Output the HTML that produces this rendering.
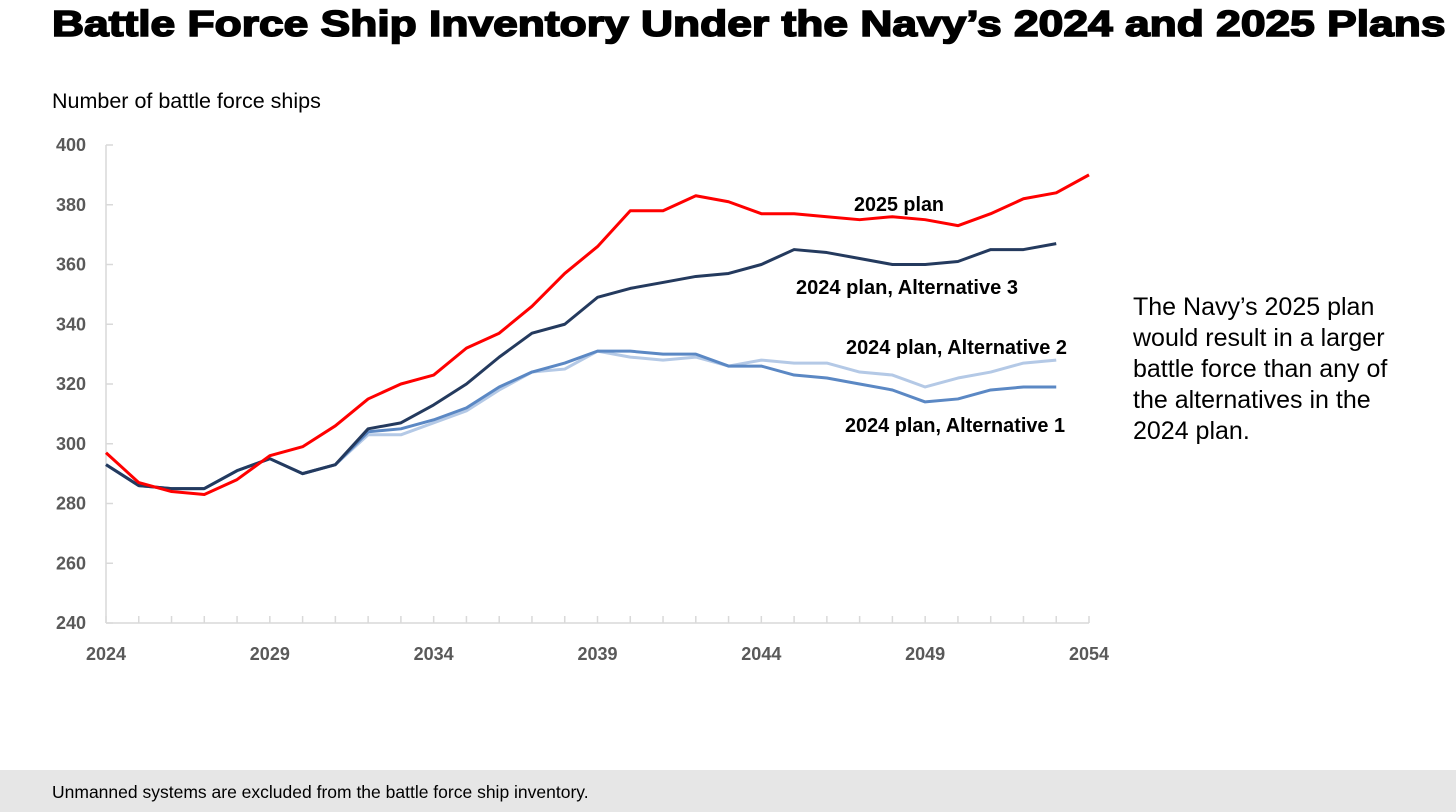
<!DOCTYPE html>
<html><head><meta charset="utf-8"><style>
body{margin:0;width:1456px;height:812px;background:#fff;overflow:hidden;font-family:"Liberation Sans",sans-serif;position:relative}
#title{position:absolute;left:52px;top:3px;font-size:36px;font-weight:900;color:#000;white-space:nowrap;-webkit-text-stroke:1.6px #000;transform-origin:0 0;transform:scaleX(1.232)}
#ylab{position:absolute;left:52px;top:89px;font-size:21.5px;color:#000}
#note{position:absolute;left:1133px;top:292px;font-size:25px;line-height:31px;color:#000;width:296px}
#footer{position:absolute;left:0;top:770px;width:1456px;height:42px;background:#e6e6e6}
#footer span{position:absolute;left:52px;top:12px;font-size:17.5px;color:#000}
svg{position:absolute;left:0;top:0}
</style></head><body>
<div id="title">Battle Force Ship Inventory Under the Navy’s 2024 and 2025 Plans</div>
<div id="ylab">Number of battle force ships</div>
<div id="note">The Navy’s 2025 plan would result in a larger battle force than any of the alternatives in the 2024 plan.</div>
<div id="footer"><span>Unmanned systems are excluded from the battle force ship inventory.</span></div>
<svg id="chart" width="1456" height="812"></svg>
<script>
const years=[];for(let y=2024;y<=2054;y++)years.push(y);
const xTicks=[2024,2029,2034,2039,2044,2049,2054];
const yTicks=[240,260,280,300,320,340,360,380,400];
const plan2025=[297,287,284,283,288,296,299,306,315,320,323,332,337,346,357,366,378,378,383,381,377,377,376,375,376,375,373,377,382,384,390];
const alt3=[293,286,285,285,291,295,290,293,305,307,313,320,329,337,340,349,352,354,356,357,360,365,364,362,360,360,361,365,365,367];
const alt2=[293,286,285,285,291,295,290,293,303,303,307,311,318,324,325,331,329,328,329,326,328,327,327,324,323,319,322,324,327,328];
const alt1=[293,286,285,285,291,295,290,293,304,305,308,312,319,324,327,331,331,330,330,326,326,323,322,320,318,314,315,318,319,319];
const NS='http://www.w3.org/2000/svg';
const svg=document.getElementById('chart');
const X=y=>106+(y-2024)*(1089-106)/30;
const Y=v=>623-(v-240)*(623-145)/160;
function mk(t,a){const e=document.createElementNS(NS,t);for(const k in a)e.setAttribute(k,a[k]);svg.appendChild(e);return e;}
let ax=mk('line',{x1:106,y1:145,x2:106,y2:623,stroke:'#d9d9d9','stroke-width':1.5});


let bx=mk('line',{x1:106,y1:623,x2:1089,y2:623,stroke:'#d9d9d9','stroke-width':1.5});


yTicks.forEach(v=>{
 mk('line',{x1:106,y1:Y(v),x2:113,y2:Y(v),stroke:'#d9d9d9','stroke-width':1.5});
 const t=mk('text',{x:86,y:Y(v)+6,'text-anchor':'end','font-size':18,'font-weight':'bold',fill:'#595959'});
 t.textContent=v;
 
 
});
years.forEach(y=>mk('line',{x1:X(y),y1:616,x2:X(y),y2:623,stroke:'#d9d9d9','stroke-width':1.5}));
xTicks.forEach(y=>{
 const t=mk('text',{x:X(y),y:660,'text-anchor':'middle','font-size':18,'font-weight':'bold',fill:'#595959'});
 t.textContent=y;
 
 
});
function line(data,color,name){
 const p=mk('polyline',{points:data.map((v,i)=>X(years[i])+','+Y(v)).join(' '),fill:'none',stroke:color,'stroke-width':3,'stroke-linejoin':'round'});
 
 
}
line(alt2,'#b4c9e6','line-alternative-2');
line(alt1,'#5b88c4','line-alternative-1');
line(alt3,'#243a5e','line-alternative-3');
line(plan2025,'#ff0000','line-2025-plan');
function lab(x,y,s,w,n){const t=mk('text',{x:x,y:y,'font-size':20,'font-weight':'bold',fill:'#000',textLength:w,lengthAdjust:'spacingAndGlyphs'});t.textContent=s;
 
 }
lab(854,211,'2025 plan',90,'label-2025-plan');
lab(796,294,'2024 plan, Alternative 3',222,'label-alternative-3');
lab(846,354,'2024 plan, Alternative 2',221,'label-alternative-2');
lab(845,432,'2024 plan, Alternative 1',220,'label-alternative-1');
</script>
</body></html>
